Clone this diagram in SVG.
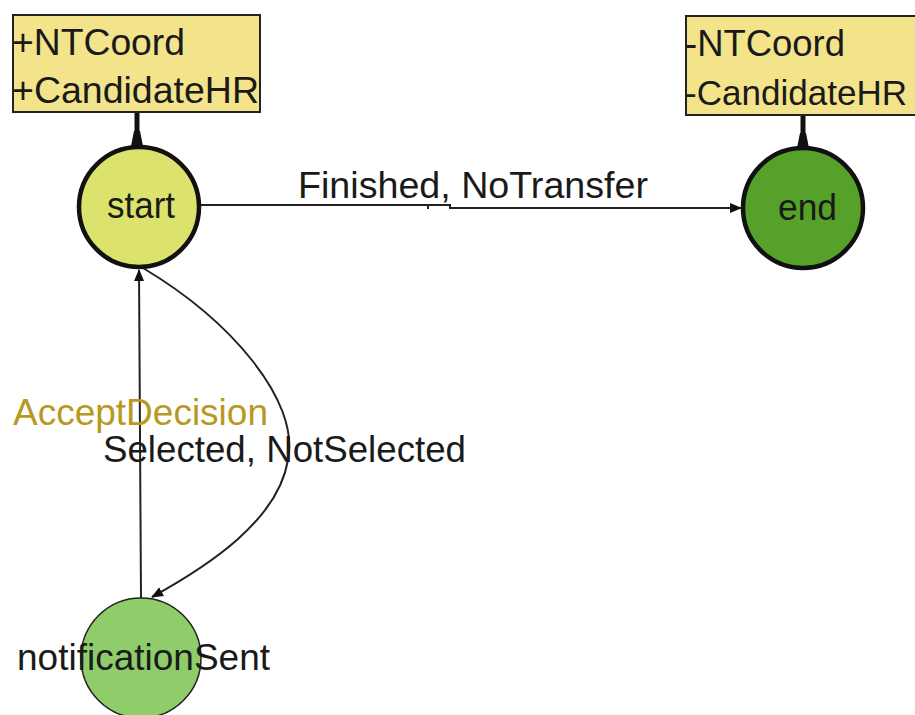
<svg xmlns="http://www.w3.org/2000/svg" width="915" height="715" viewBox="0 0 915 715">
<style>
text{font-family:"Liberation Sans",Arial,sans-serif;font-size:37px;fill:#1a1a1a}
.note{fill:#f3e38a;stroke:#222;stroke-width:2}
.edge{fill:none;stroke:#222;stroke-width:2}
.link{stroke:#111;stroke-width:5}
</style>
<defs>
<marker id="arr" markerWidth="12" markerHeight="12" refX="11" refY="6" orient="auto" markerUnits="userSpaceOnUse" viewBox="0 0 12 12">
<path d="M0,1 L12,6 L0,11 z" fill="#111"/>
</marker>
</defs>
<rect width="915" height="715" fill="#fff"/>
<g id="connectors">
<polyline class="edge" points="200,205 450,205 450,208 741,208" marker-end="url(#arr)"/>
<line x1="428" y1="205" x2="428" y2="209" stroke="#222" stroke-width="2"/>
<line class="edge" x1="141" y1="598" x2="139" y2="270" marker-end="url(#arr)"/>
<path class="edge" d="M143,268 C230,320 300,400 288,460 C278,520 210,565 152,597" marker-end="url(#arr)"/>
<line class="link" x1="137" y1="112" x2="137" y2="146"/>
<path d="M131,146 L134,131 L140,131 L143,146 z" fill="#111"/>
<line class="link" x1="803" y1="115" x2="803" y2="148"/>
<path d="M797,148 L800,133 L806,133 L809,148 z" fill="#111"/>
</g>
<g id="startNote">
<rect class="note" x="13" y="15" width="247" height="97"/>
<text x="12" y="55" textLength="173" lengthAdjust="spacingAndGlyphs">+NTCoord</text>
<text x="12" y="103" textLength="247" lengthAdjust="spacingAndGlyphs">+CandidateHR</text>
</g>
<g id="endNote">
<path class="note" d="M916,16 H686 V115 H916"/>
<text x="685" y="56" textLength="160" lengthAdjust="spacingAndGlyphs">-NTCoord</text>
<text x="685" y="105" style="font-size:35px" textLength="222" lengthAdjust="spacingAndGlyphs">-CandidateHR</text>
</g>
<g id="start">
<circle cx="139" cy="207" r="60" fill="#dce36c" stroke="#111" stroke-width="4.5"/>
<text x="107" y="218" textLength="68" lengthAdjust="spacingAndGlyphs">start</text>
</g>
<g id="end">
<circle cx="803" cy="208" r="60" fill="#56a12a" stroke="#111" stroke-width="4.5"/>
<text x="778" y="220" textLength="59" lengthAdjust="spacingAndGlyphs">end</text>
</g>
<g id="notificationSent">
<circle cx="141" cy="658" r="60" fill="#8fcd6b" stroke="#222" stroke-width="1.5"/>
<text x="17" y="670" textLength="253" lengthAdjust="spacingAndGlyphs">notificationSent</text>
</g>
<g id="labels">
<text x="298" y="198" textLength="350" lengthAdjust="spacingAndGlyphs">Finished, NoTransfer</text>
<text x="13" y="425" textLength="255" lengthAdjust="spacingAndGlyphs" style="fill:#b8981f">AcceptDecision</text>
<text x="103" y="462" textLength="363" lengthAdjust="spacingAndGlyphs">Selected, NotSelected</text>
</g>
</svg>
